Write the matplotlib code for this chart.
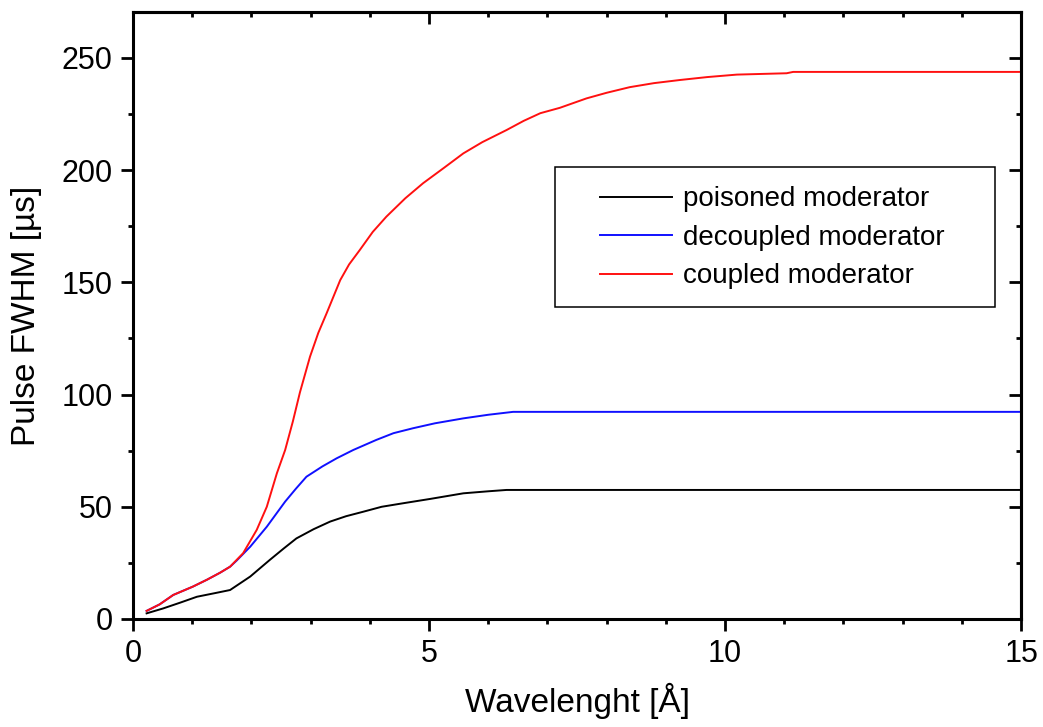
import numpy as np
import matplotlib
matplotlib.use("Agg")
import matplotlib.pyplot as plt
import matplotlib.patches as p

plt.rcParams['font.family'] = ['Liberation Sans', 'DejaVu Sans']

# coupled moderator (red)
x_coupled = [0.23, 0.45, 0.68, 1.01, 1.25, 1.47, 1.64, 1.86, 2.09, 2.26, 2.43, 2.57, 2.7, 2.82,
             2.99, 3.13, 3.27, 3.50, 3.65, 3.83, 4.05, 4.28, 4.6, 4.90, 5.25, 5.58, 5.9, 6.31,
             6.6, 6.88, 7.21, 7.66, 8.0, 8.39, 8.8, 9.24, 9.7, 10.2, 11.04, 11.15, 15.0]
y_coupled = [3.6, 6.5, 10.7, 14.4, 17.5, 20.6, 23.3, 29.3, 39.7, 50.0, 64.9, 75.3, 88.0, 101.0,
             116.9, 127.5, 136.2, 151.0, 158.0, 164.4, 172.5, 179.3, 187.5, 194.2, 201.0, 207.5, 212.5, 217.9,
             222.0, 225.4, 227.8, 232.0, 234.5, 237.0, 238.8, 240.2, 241.5, 242.6, 243.2, 243.8, 243.8]

# decoupled moderator (blue)
x_decoupled = [0.23, 0.45, 0.68, 1.01, 1.25, 1.47, 1.64, 1.75, 1.98, 2.26, 2.57, 2.75, 2.93,
               3.2, 3.44, 3.72, 4.11, 4.4, 4.73, 5.1, 5.58, 6.0, 6.42, 15.0]
y_decoupled = [3.6, 6.5, 10.7, 14.4, 17.5, 20.6, 23.3, 26.0, 32.2, 41.1, 52.3, 58.0, 63.4,
               68.0, 71.6, 75.3, 79.8, 82.8, 85.0, 87.2, 89.4, 91.0, 92.3, 92.3]

# poisoned moderator (black)
x_poisoned = [0.23, 0.51, 0.8, 1.08, 1.4, 1.64, 1.98, 2.31, 2.55, 2.76, 3.05, 3.33, 3.6,
              3.89, 4.2, 4.57, 5.02, 5.58, 6.0, 6.31, 15.0]
y_poisoned = [2.5, 4.7, 7.3, 9.9, 11.6, 12.9, 18.9, 26.3, 31.5, 35.9, 40.0, 43.4, 45.8,
              47.8, 50.0, 51.6, 53.5, 56.0, 56.9, 57.5, 57.5]

fig = plt.figure(figsize=(10.43, 7.27), dpi=100)
ax = fig.add_axes([0.1275, 0.1486, 0.8515, 0.8349])

ax.plot(x_poisoned, y_poisoned, color="black", lw=1.4, label="poisoned moderator")
ax.plot(x_decoupled, y_decoupled, color="#1010ff", lw=1.4, label="decoupled moderator")
ax.plot(x_coupled, y_coupled, color="#ff1010", lw=1.4, label="coupled moderator")

ax.set_xlim(0, 15)
ax.set_ylim(0, 270.5)
ax.set_xticks([0, 5, 10, 15])
ax.set_xticks(np.arange(0, 16, 1), minor=True)
ax.set_yticks([0, 50, 100, 150, 200, 250])
ax.set_yticks(np.arange(0, 275, 25), minor=True)

for s in ax.spines.values():
    s.set_linewidth(2.2)
ax.tick_params(which="major", direction="out", length=8.6, width=2.0, labelsize=22, pad=6)
ax.tick_params(which="minor", direction="out", length=3.6, width=2.0)

# mirrored ticks pointing inward on top and right
top = ax.secondary_xaxis("top")
top.set_xticks([0, 5, 10, 15])
top.set_xticks(np.arange(0, 16, 1), minor=True)
top.tick_params(which="major", direction="in", length=8.6, width=2.0, labeltop=False)
top.tick_params(which="minor", direction="in", length=3.6, width=2.0)
top.spines["top"].set_linewidth(2.2)
right = ax.secondary_yaxis("right")
right.set_yticks([0, 50, 100, 150, 200, 250])
right.set_yticks(np.arange(0, 275, 25), minor=True)
right.tick_params(which="major", direction="in", length=8.6, width=2.0, labelright=False)
right.tick_params(which="minor", direction="in", length=3.6, width=2.0)
right.spines["right"].set_linewidth(2.2)

ax.set_xlabel("Wavelenght [Å]", fontsize=24, labelpad=10)
ax.set_ylabel("Pulse FWHM [µs]", fontsize=24, labelpad=14)

# legend without its own frame, box drawn separately (wider padding like the original)
leg = ax.legend(loc="center left", bbox_to_anchor=(0.526, 0.628), fontsize=20,
                frameon=False, handlelength=2.6, handletextpad=0.4,
                labelspacing=0.45, borderpad=0, borderaxespad=0)
box = p.Rectangle((0.4752, 0.514), 0.4955, 0.2306, transform=ax.transAxes,
                  fill=False, edgecolor="black", lw=1.1, zorder=5)
ax.add_patch(box)

fig.savefig("out.png", dpi=100)
